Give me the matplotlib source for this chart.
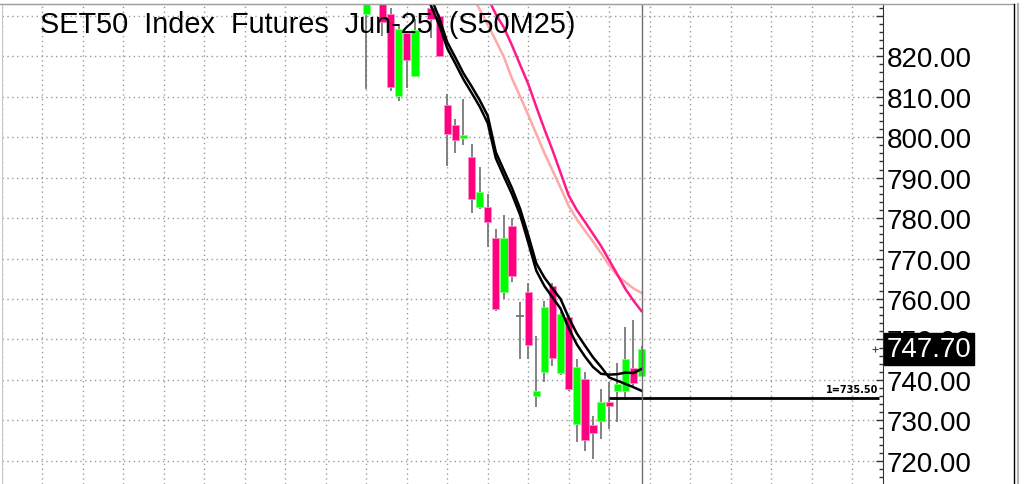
import numpy as np
import matplotlib
matplotlib.use('Agg')
import matplotlib.pyplot as plt
from matplotlib.lines import Line2D

plt.rcParams['font.family'] = ['Liberation Sans', 'DejaVu Sans']

nan = np.nan

# daily candles, index 0..34 (1 and 7 sit above the visible range)
opens = [830.4, 835.0, 835.0, 830.5, 810.3, 825.7, 815.2, 834.0, 832.0, 830.0,
         808.0, 803.0, 799.7, 795.2, 782.7, 782.7, 775.0, 761.8, 778.0, 755.7,
         761.7, 736.1, 742.0, 763.1, 741.7, 755.5, 729.1, 740.1, 728.9, 729.9,
         734.5, 737.3, 737.3, 742.9, 741.0]
highs = [836.0, 838.0, 836.0, 832.0, 828.0, 826.3, 829.2, 837.0, 833.0, 830.5,
         810.7, 804.5, 809.4, 798.3, 792.6, 786.0, 777.3, 780.8, 780.0, 759.2,
         764.0, 750.9, 759.6, 764.0, 756.9, 756.0, 745.2, 741.9, 731.1, 737.7,
         739.6, 744.2, 753.0, 754.9, 748.5]
lows = [811.9, 834.0, 825.1, 811.5, 809.0, 812.1, 815.0, 833.8, 824.5, 819.8,
        792.9, 796.2, 798.1, 781.3, 782.3, 772.8, 757.1, 760.0, 764.1, 745.2,
        745.2, 733.2, 739.6, 743.5, 741.2, 737.3, 724.6, 722.3, 720.4, 725.4,
        727.9, 729.5, 735.7, 738.5, 741.0]
closes = [834.0, 837.0, 828.4, 812.3, 826.7, 819.1, 826.5, 836.0, 829.3, 820.1,
          800.8, 799.2, 800.5, 784.7, 786.4, 779.0, 757.5, 775.0, 765.8, 755.7,
          748.6, 737.2, 758.1, 745.3, 756.3, 737.8, 743.3, 725.2, 726.8, 734.5,
          733.6, 739.0, 745.2, 739.2, 747.7]

ma_fast = [nan] * 7 + [836.0, 832.5, 827.8, 822.0, 818.2, 814.3, 811.0, 807.6, 803.5,
                       794.8, 790.3, 785.9, 780.8, 774.0, 767.0, 763.2, 760.4, 757.6,
                       752.8, 748.8, 745.8, 743.2, 741.5, 741.3, 741.4, 741.8, 741.7, 742.7]
ma_slow = [nan] * 7 + [838.0, 834.5, 829.5, 823.5, 819.7, 815.8, 812.6, 809.2, 805.3,
                       796.3, 791.8, 787.4, 782.3, 775.8, 768.8, 765.3, 762.6, 760.0,
                       755.4, 751.5, 748.5, 745.6, 743.2, 740.6, 739.8, 739.0, 738.2, 737.3]
ma_pink = [nan] * 13 + [835.5, 831.6, 827.8, 823.9, 819.8, 814.5, 810.1, 805.5, 800.8,
                        796.1, 791.8, 787.5, 783.0, 779.7, 776.9, 774.2, 771.3, 768.3,
                        765.8, 764.2, 762.6, 761.5]
ma_magenta = [nan] * 15 + [834.5, 830.4, 827.1, 822.7, 817.9, 813.2, 807.5, 802.0, 796.8,
                           791.2, 785.6, 782.0, 779.1, 776.1, 773.1, 769.6, 766.1, 762.5,
                           759.6, 757.0]

last_price = 747.70
marker_level = 735.50
yticks = [720, 730, 740, 750, 760, 770, 780, 790, 800, 810, 820, 830]

UP = '#00FF00'
DOWN = '#FF0080'
WICK = '#6e6e6e'

W, H = 1029, 485
fig = plt.figure(figsize=(W / 100, H / 100), dpi=100)
fig.patch.set_facecolor('white')
ax = fig.add_axes([2 / W, 0, 880.7 / W, 480 / H])

x = np.arange(len(opens))
o = np.array(opens)
c = np.array(closes)
hi = np.array(highs)
lo = np.array(lows)

ax.vlines(x, lo, hi, color=WICK, lw=1.2, zorder=3)
up = c > o
dn = c < o
doji = c == o
ax.bar(x[up], (c - o)[up], bottom=o[up], width=0.9, color=UP,
       edgecolor='#7CFF7C', lw=0.6, zorder=4)
ax.bar(x[dn], (o - c)[dn], bottom=c[dn], width=0.9, color=DOWN,
       edgecolor='#FF8CC6', lw=0.6, zorder=4)
ax.hlines(c[doji], x[doji] - 0.45, x[doji] + 0.45, color=WICK, lw=1.2, zorder=4)

ax.plot(x, ma_pink, color='#FFA8A8', lw=1.8, zorder=5)
ax.plot(x, ma_magenta, color='#FF1A8C', lw=1.8, zorder=5)
ax.plot(x, ma_fast, color='black', lw=1.8, zorder=6)
ax.plot(x, ma_slow, color='black', lw=1.8, zorder=6)

# marker line + cursor
ax.hlines(marker_level, 30, 63.3, color='black', lw=2, zorder=6)
ax.text(63.2, marker_level + 0.9, '1=735.50', ha='right', va='bottom',
        fontsize=7, fontweight='bold', family=['DejaVu Sans'])
ax.axvline(34, color='#707070', lw=1, zorder=7)
ax.plot(62.8, last_price, marker='+', ms=4, color='#444444', mew=0.8)

ax.set_xlim(-44.94, 63.79)
ax.set_ylim(714.26, 832.93)

ax.set_xticks(np.arange(-45, 64, 5))
ax.set_yticks(yticks)
ax.set_yticks(np.arange(716, 833, 2), minor=True)
ax.grid(True, which='major', color='#9a9a9a', linestyle=(0, (1, 2.5)), lw=1)
ax.tick_params(axis='x', length=0, labelbottom=False)
ax.yaxis.tick_right()
ax.set_yticklabels([f'{v:.2f}' if v < 830 else '' for v in yticks])
ax.tick_params(axis='y', which='major', direction='in', length=5, width=1,
               pad=3, labelsize=20, color='#333333')
ax.tick_params(axis='y', which='minor', direction='in', length=3, width=1,
               color='#333333')

ax.spines['bottom'].set_visible(False)
ax.spines['left'].set_color('#c8c8c8')
ax.spines['top'].set_color('#a0a0a0')
ax.spines['right'].set_color('#333333')

# last price box
ax.annotate(f'{last_price:.2f}', xy=(1, last_price),
            xycoords=('axes fraction', 'data'), xytext=(4, 0),
            textcoords='offset pixels', ha='left', va='center',
            fontsize=20, color='white', zorder=10, annotation_clip=False,
            bbox=dict(boxstyle='square,pad=0.1', fc='black', ec='black'))

fig.text(40 / W, 1 - 25 / H, 'SET50  Index  Futures  Jun-25  (S50M25)',
         fontsize=20.8, ha='left', va='center', zorder=10)

# window frame
fig.add_artist(Line2D([0, 1014 / W], [1 - 5 / H] * 2, color='#a0a0a0', lw=1))
fig.add_artist(Line2D([1014 / W] * 2, [0, 1 - 5 / H], color='black', lw=1))
fig.add_artist(Line2D([1018 / W] * 2, [0, 1 - 5 / H], color='#b0b0b0', lw=1.5))

fig.savefig('out.png', dpi=100)
